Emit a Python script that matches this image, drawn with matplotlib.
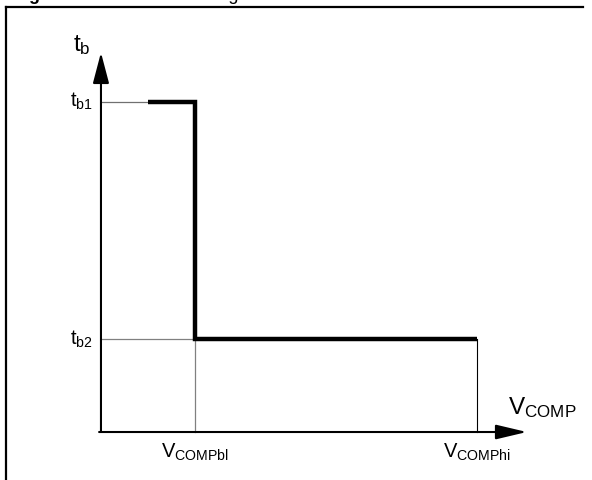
import matplotlib
matplotlib.use("Agg")
import matplotlib.pyplot as plt
from matplotlib.lines import Line2D

plt.rcParams['font.family'] = ['Liberation Sans', 'DejaVu Sans']
plt.rcParams['mathtext.fontset'] = 'custom'
plt.rcParams['mathtext.rm'] = 'Liberation Sans'

# blanking time vs V_COMP (arbitrary units)
v_comp_bl = 1.0
v_comp_hi = 4.0
t_b1 = 3.55
t_b2 = 1.0
step_v = [0.5, v_comp_bl, v_comp_bl, v_comp_hi]
step_t = [t_b1, t_b1, t_b2, t_b2]

x_ticks = [v_comp_bl, v_comp_hi]
x_tick_labels = [r'$\mathregular{V_{COMPbl}}$', r'$\mathregular{V_{COMPhi}}$']
y_ticks = [t_b1, t_b2]
y_tick_labels = [r'$\mathregular{t_{b1}}$', r'$\mathregular{t_{b2}}$']


def main() -> None:
    fig = plt.figure(figsize=(5.92, 4.80), dpi=100)
    ax = fig.add_axes([0, 0, 1, 1])
    ax.set_xlim(-1.074, 5.223)
    ax.set_ylim(-0.516, 4.645)
    ax.axis('off')

    # guide lines
    ax.plot([0, v_comp_bl], [t_b2, t_b2], color='#808080', lw=0.9)
    ax.plot([v_comp_bl, v_comp_bl], [0, t_b2], color='#808080', lw=0.9)
    ax.plot([0, step_v[0]], [t_b1, t_b1], color='#707070', lw=0.9)
    ax.plot([v_comp_hi, v_comp_hi], [0, t_b2], color='black', lw=0.8)

    # the curve
    ax.plot(step_v, step_t, color='black', lw=3.2, solid_joinstyle='miter',
            solid_capstyle='butt')

    # axes with arrows
    ax.annotate('', xy=(4.53, 0), xytext=(-0.02, 0),
                arrowprops=dict(arrowstyle='-|>,head_length=1.9,head_width=0.45',
                                lw=1.5, color='black', shrinkA=0, shrinkB=0,
                                mutation_scale=10))
    ax.annotate('', xy=(0, 4.08), xytext=(0, 0),
                arrowprops=dict(arrowstyle='-|>,head_length=1.9,head_width=0.5',
                                lw=1.5, color='black', shrinkA=0, shrinkB=0,
                                mutation_scale=10))

    # tick labels
    for x, lab in zip(x_ticks, x_tick_labels):
        ax.annotate(lab, xy=(x, 0), xytext=(0, -7), textcoords='offset points',
                    ha='center', va='top', fontsize=14.5)
    for y, lab in zip(y_ticks, y_tick_labels):
        ax.annotate(lab, xy=(0, y), xytext=(-6, 0), textcoords='offset points',
                    ha='right', va='center', fontsize=14.5)

    # axis names
    ax.text(4.33, 0.13, r'$\mathregular{V_{COMP}}$', ha='left', va='bottom',
            fontsize=17.5)
    ax.text(-0.30, 4.03, r'$\mathregular{t_b}$', ha='left', va='bottom',
            fontsize=17.5)

    # frame and cut-off caption
    fig.add_artist(Line2D([6 / 592, 6 / 592], [0, 1 - 7 / 480],
                          transform=fig.transFigure, color='black', lw=1.6))
    fig.add_artist(Line2D([6 / 592, 583 / 592], [1 - 7 / 480, 1 - 7 / 480],
                          transform=fig.transFigure, color='black', lw=1.6,
                          solid_capstyle='projecting'))
    fig.text(13 / 592, 1 - 0.5 / 480, 'Figure 10.', fontweight='bold',
             fontsize=13, ha='left', va='baseline')
    fig.text(169 / 592, 1 - 0.5 / 480, 'Blanking time', fontsize=13,
             ha='left', va='baseline')

    fig.savefig('out.png', dpi=100)


if __name__ == '__main__':
    main()
